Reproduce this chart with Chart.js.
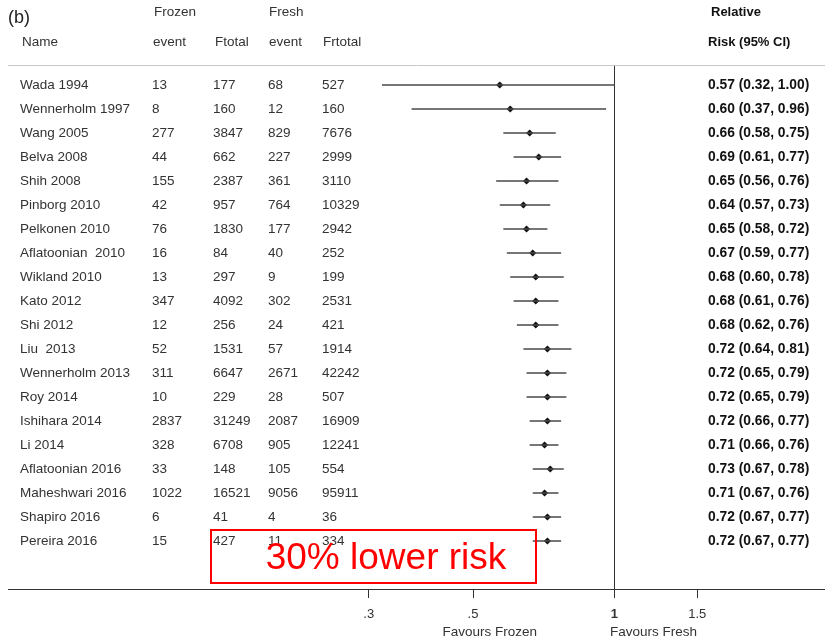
<!DOCTYPE html>
<html>
<head>
<meta charset="utf-8">
<script src="https://cdn.jsdelivr.net/npm/chart.js@4.4.1/dist/chart.umd.min.js"></script>
<style>
  html, body { margin: 0; padding: 0; background: #fff; }
  #wrap { width: 825px; height: 641px; position: relative; }
</style>
</head>
<body>
<div id="wrap"><canvas id="forestChart"></canvas></div>
<script>
// studies, top to bottom
const studyNames = ['Wada 1994', 'Wennerholm 1997', 'Wang 2005', 'Belva 2008', 'Shih 2008', 'Pinborg 2010',
    'Pelkonen 2010', 'Aflatoonian  2010', 'Wikland 2010', 'Kato 2012', 'Shi 2012', 'Liu  2013',
    'Wennerholm 2013', 'Roy 2014', 'Ishihara 2014', 'Li 2014', 'Aflatoonian 2016', 'Maheshwari 2016',
    'Shapiro 2016', 'Pereira 2016'];
const frozenEvent = [13, 8, 277, 44, 155, 42, 76, 16, 13, 347, 12, 52, 311, 10, 2837, 328, 33, 1022, 6, 15];
const frozenTotal = [177, 160, 3847, 662, 2387, 957, 1830, 84, 297, 4092, 256, 1531, 6647, 229, 31249, 6708, 148, 16521, 41, 427];
const freshEvent = [68, 12, 829, 227, 361, 764, 177, 40, 9, 302, 24, 57, 2671, 28, 2087, 905, 105, 9056, 4, 11];
const freshTotal = [527, 160, 7676, 2999, 3110, 10329, 2942, 252, 199, 2531, 421, 1914, 42242, 507, 16909, 12241, 554, 95911, 36, 334];

// relative risk with 95% CI
const relRisk = [0.57, 0.60, 0.66, 0.69, 0.65, 0.64, 0.65, 0.67, 0.68, 0.68, 0.68, 0.72, 0.72, 0.72, 0.72, 0.71, 0.73, 0.71, 0.72, 0.72];
const ciLow = [0.32, 0.37, 0.58, 0.61, 0.56, 0.57, 0.58, 0.59, 0.60, 0.61, 0.62, 0.64, 0.65, 0.65, 0.66, 0.66, 0.67, 0.67, 0.67, 0.67];
const ciHigh = [1.00, 0.96, 0.75, 0.77, 0.76, 0.73, 0.72, 0.77, 0.78, 0.76, 0.76, 0.81, 0.79, 0.79, 0.77, 0.76, 0.78, 0.76, 0.77, 0.77];

// x axis ticks
const tickValues = [0.3, 0.5, 1, 1.5];
const tickLabels = ['.3', '.5', '1', '1.5'];

const FONT = "'Liberation Sans', Arial, sans-serif";

// CI segments, broken between rows by a null point
let ciPoints = [];
ciLow.forEach((lo, i) => {
    ciPoints.push({ x: lo, y: i });
    ciPoints.push({ x: ciHigh[i], y: i });
    ciPoints.push({ x: 1, y: null });
});

let rrPoints = relRisk.map((v, i) => ({ x: v, y: i }));

const tablePlugin = {
    id: 'forestTable',
    afterDraw(chart) {
        const ctx = chart.ctx;
        const yScale = chart.scales.y;
        const area = chart.chartArea;
        ctx.save();

        // header rule
        ctx.strokeStyle = '#c8c8c8';
        ctx.lineWidth = 1;
        ctx.beginPath();
        ctx.moveTo(8, area.top + 0.5);
        ctx.lineTo(825, area.top + 0.5);
        ctx.stroke();

        ctx.textBaseline = 'middle';
        ctx.textAlign = 'left';
        ctx.fillStyle = '#222';
        ctx.font = '18px ' + FONT;
        ctx.fillText('(b)', 8, 18);

        ctx.fillStyle = '#333';
        ctx.font = '13.5px ' + FONT;
        ctx.fillText('Frozen', 154, 12);
        ctx.fillText('Fresh', 269, 12);
        ctx.fillText('Name', 22, 42);
        ctx.fillText('event', 153, 42);
        ctx.fillText('Ftotal', 215, 42);
        ctx.fillText('event', 269, 42);
        ctx.fillText('Frtotal', 323, 42);

        ctx.fillStyle = '#111';
        ctx.font = 'bold 13px ' + FONT;
        ctx.fillText('Relative', 711, 12);
        ctx.fillText('Risk (95% CI)', 708, 42);

        // study rows
        studyNames.forEach((name, i) => {
            let y = yScale.getPixelForValue(i);
            ctx.fillStyle = '#333';
            ctx.font = '13.5px ' + FONT;
            ctx.fillText(name, 20, y);
            ctx.fillText(String(frozenEvent[i]), 152, y);
            ctx.fillText(String(frozenTotal[i]), 213, y);
            ctx.fillText(String(freshEvent[i]), 268, y);
            ctx.fillText(String(freshTotal[i]), 322, y);

            ctx.fillStyle = '#111';
            ctx.font = 'bold 13.8px ' + FONT;
            let txt = relRisk[i].toFixed(2) + ' (' + ciLow[i].toFixed(2) + ', ' + ciHigh[i].toFixed(2) + ')';
            ctx.fillText(txt, 708, y);
        });

        // direction labels
        ctx.fillStyle = '#333';
        ctx.font = '13.5px ' + FONT;
        ctx.textAlign = 'right';
        ctx.fillText('Favours Frozen', 537, 632);
        ctx.textAlign = 'left';
        ctx.fillText('Favours Fresh', 610, 632);

        // red callout
        ctx.strokeStyle = '#ff0000';
        ctx.lineWidth = 2;
        ctx.strokeRect(211, 530, 325, 53);
        ctx.fillStyle = '#ff0000';
        ctx.font = '37px ' + FONT;
        ctx.textAlign = 'center';
        ctx.fillText('30% lower risk', 386, 559);

        ctx.restore();
    }
};

const ctx = document.getElementById('forestChart').getContext('2d');
new Chart(ctx, {
    type: 'scatter',
    data: {
        datasets: [
            {
                type: 'line',
                data: ciPoints,
                borderColor: '#4a4a4a',
                borderWidth: 1.3,
                pointRadius: 0,
                spanGaps: false,
                fill: false
            },
            {
                data: rrPoints,
                pointStyle: 'rectRot',
                pointRadius: 3.6,
                backgroundColor: '#111',
                borderColor: '#111',
                borderWidth: 0
            }
        ]
    },
    options: {
        responsive: true,
        maintainAspectRatio: false,
        animation: false,
        layout: { autoPadding: false, padding: { top: 65, left: 8, right: 0, bottom: 0 } },
        plugins: {
            legend: { display: false },
            tooltip: { enabled: false }
        },
        scales: {
            x: {
                type: 'logarithmic',
                min: 0.0512,
                max: 2.806,
                afterBuildTicks: (scale) => {
                    scale.ticks = tickValues.map(v => ({ value: v }));
                },
                afterFit: (scale) => { scale.height = 52; },
                ticks: {
                    autoSkip: false,
                    maxRotation: 0,
                    padding: 9,
                    color: '#333',
                    font: (c) => ({ family: FONT, size: 13, weight: (c.tick && c.tick.value === 1) ? 'bold' : 'normal' }),
                    callback: (value) => {
                        let idx = tickValues.indexOf(value);
                        return idx >= 0 ? tickLabels[idx] : '';
                    }
                },
                grid: {
                    color: (c) => (c.tick && c.tick.value === 1) ? '#333' : 'rgba(0,0,0,0)',
                    tickColor: '#333',
                    tickLength: 9,
                    drawTicks: true
                },
                border: { display: true, color: '#333', width: 1 }
            },
            y: {
                type: 'linear',
                reverse: true,
                min: -0.8333,
                max: 21,
                display: false
            }
        }
    },
    plugins: [tablePlugin]
});
</script>
</body>
</html>
